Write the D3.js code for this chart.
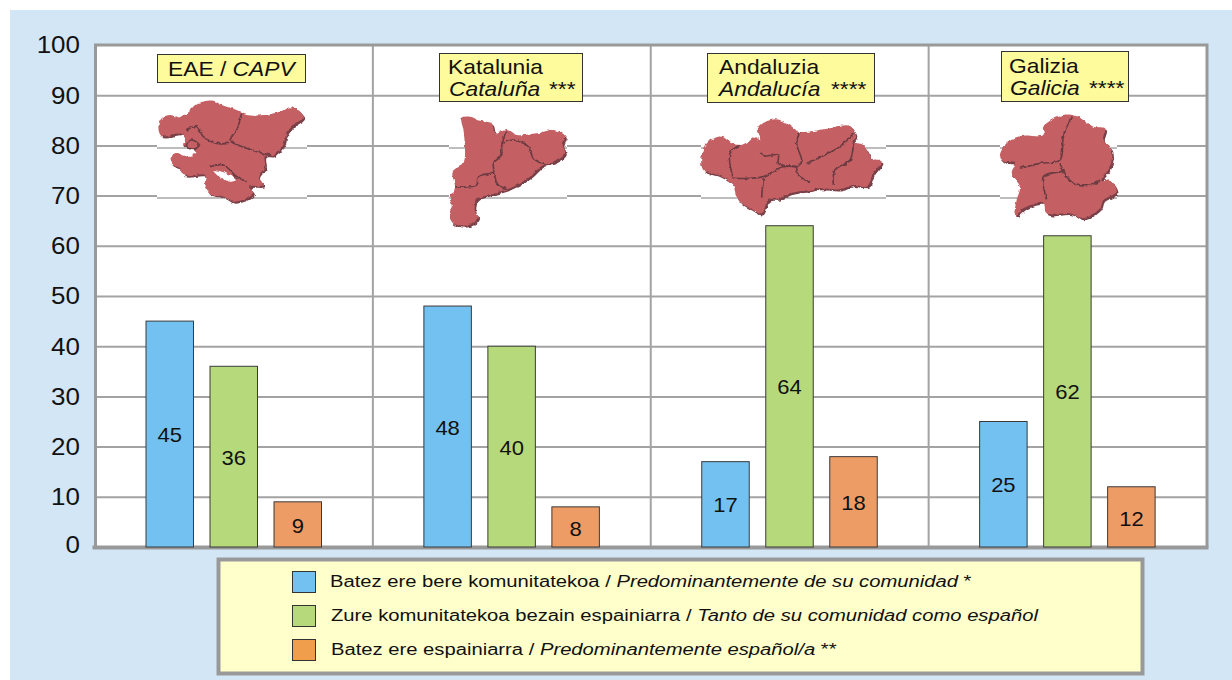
<!DOCTYPE html>
<html><head><meta charset="utf-8">
<script src="https://cdn.jsdelivr.net/npm/d3@7"></script>
<style>
html,body{margin:0;padding:0;background:#fff}
svg{display:block}
text{font-family:"Liberation Sans",Arial,sans-serif;fill:#111}
</style></head><body><div id="c"></div>
<script>
const regions = ["EAE","Katalunia","Andaluzia","Galizia"];
const series = ["predominantlyRegional","both","predominantlySpanish"];
const regional = [45,48,17,25];
const both = [36,40,64,62];
const spanish = [9,8,18,12];
const yTicks = [0,10,20,30,40,50,60,70,80,90,100];
const barColors = ["#73C1F1","#B6DA7B","#EE9C66"];
const swatchColors = ["#73C1F1","#B6DA7B","#F09D4C"];
const legendLabels = [
  ["Batez ere bere komunitatekoa / ","Predominantemente de su comunidad"," *"],
  ["Zure komunitatekoa bezain espainiarra / ","Tanto de su comunidad como español",""],
  ["Batez ere espainiarra / ","Predominantemente español/a"," **"]
];
const titles = [
  {box:[157,54,148,28], lines:[{y:76,x:168,parts:[["EAE / ",0],["CAPV",1]]}]},
  {box:[439,53,143,48], lines:[{y:74,x:448,parts:[["Katalunia",0]]},{y:96,x:449,parts:[["Cataluña",1]]},{y:96,x:549,parts:[["***",0]]}]},
  {box:[707,53,167,49], lines:[{y:74,x:719,parts:[["Andaluzia",0]]},{y:96,x:719,parts:[["Andalucía",1]]},{y:96,x:831,parts:[["****",0]]}]},
  {box:[1001,51,127,50],lines:[{y:73,x:1009,parts:[["Galizia",0]]},{y:95,x:1010,parts:[["Galicia",1]]},{y:95,x:1089,parts:[["****",0]]}]}
];
// Region silhouettes: outline + interior boundaries, traced at 3x around an origin
const maps = [
 {origin:[90,30],clip:[157,307,100,203],grid:[148,198],
  outline:[[205,290],[215,265],[240,255],[270,262],[300,240],[320,222],[370,212],[395,225],[440,240],[470,255],[520,255],[570,245],[600,232],[625,240],[640,262],[610,285],[590,310],[580,345],[550,375],[525,378],[525,410],[505,440],[520,465],[480,470],[490,490],[470,505],[430,515],[400,500],[360,490],[345,460],[345,435],[280,435],[270,415],[250,405],[242,385],[260,368],[300,378],[320,360],[280,345],[285,325],[270,310],[215,318]],
  holes:[[[370,422],[395,425],[440,447],[425,455],[395,445]],[[265,368],[285,365],[310,378],[295,380]]],
  inner:[[[455,250],[440,300],[420,330],[470,355],[540,375]],[[415,340],[380,340],[340,320],[320,290],[290,300]],[[290,340],[305,330],[328,345],[310,358],[290,350],[290,340]],[[360,410],[400,405],[440,440],[470,455]]]},
 {origin:[370,30],clip:[449,567,110,226],grid:[148,198],
  outline:[[275,265],[300,260],[330,272],[365,280],[375,310],[410,300],[440,315],[500,310],[550,300],[585,318],[578,345],[585,370],[555,395],[520,405],[480,440],[420,475],[370,490],[320,510],[315,545],[325,560],[310,580],[280,587],[250,580],[237,555],[245,530],[240,500],[255,475],[248,425],[280,400],[285,350],[280,300]],
  holes:[],
  inner:[[[410,305],[395,345],[395,375],[370,400],[370,425],[325,440],[320,465],[255,470]],[[370,425],[385,465],[410,475]],[[400,340],[430,330],[475,350],[490,385],[520,400]]]},
 {origin:[650,30],clip:[701,886,112,216],grid:[148,198],
  outline:[[155,375],[175,335],[215,320],[245,340],[270,345],[295,335],[315,322],[330,330],[325,290],[375,268],[410,280],[450,305],[520,298],[600,288],[618,320],[610,335],[640,345],[670,390],[695,395],[670,430],[650,470],[610,465],[570,478],[510,475],[480,480],[420,490],[390,505],[355,510],[335,550],[300,535],[265,510],[245,460],[205,435],[160,420]],
  holes:[],
  inner:[[[270,345],[240,370],[250,445]],[[250,445],[300,445],[340,440],[400,410],[440,410]],[[330,370],[345,378],[385,375],[385,400],[440,410]],[[450,305],[440,340],[455,395],[440,410]],[[470,400],[570,350],[610,310]],[[440,410],[445,435],[480,455]],[[610,340],[600,390],[555,420],[550,465]],[[340,445],[335,500]]]},
 {origin:[930,30],clip:[1000,1117,113,220],grid:[148,198],
  outline:[[210,380],[225,345],[270,318],[340,315],[340,290],[400,255],[450,262],[490,290],[525,295],[520,330],[545,360],[540,410],[515,450],[540,450],[560,485],[520,510],[510,535],[460,565],[420,550],[350,550],[340,520],[290,530],[255,555],[260,510],[270,470],[245,430],[255,400],[225,395]],
  holes:[],
  inner:[[[425,258],[400,320],[390,390],[330,400],[270,415]],[[390,400],[410,440],[440,465],[480,465],[510,450]],[[400,425],[340,440],[345,490],[350,510]]]}
];

const W=1232,H=680;
const svg=d3.select("#c").append("svg").attr("width",W).attr("height",H);
const defs=svg.append("defs");
const f=defs.append("filter").attr("id","soft").attr("filterUnits","objectBoundingBox").attr("x","-10%").attr("y","-10%").attr("width","120%").attr("height","120%");
f.append("feTurbulence").attr("type","fractalNoise").attr("baseFrequency",0.07).attr("numOctaves",2).attr("seed",4).attr("result","n");
f.append("feDisplacementMap").attr("in","SourceGraphic").attr("in2","n").attr("scale",11).attr("xChannelSelector","R").attr("yChannelSelector","G").attr("result","d");
f.append("feGaussianBlur").attr("in","d").attr("stdDeviation",1.6);

svg.append("rect").attr("x",10).attr("y",10).attr("width",W-10).attr("height",H-10).attr("fill","#D3E6F5");

const plot={l:95.5,r:1207,t:45,b:547};
const x=d3.scaleBand().domain(regions).range([plot.l,plot.r]);
const y=d3.scaleLinear().domain([0,100]).range([plot.b,plot.t]);
const xs=d3.scaleBand().domain(series).range([50.5,226]).paddingInner(0.258).paddingOuter(0);

svg.append("rect").attr("x",plot.l).attr("y",plot.t).attr("width",plot.r-plot.l).attr("height",plot.b-plot.t).attr("fill","#fff");

// grid
const gridG=svg.append("g").attr("transform",`translate(${plot.l},0)`)
 .call(d3.axisLeft(y).tickValues(yTicks.slice(1,-1)).tickSize(-(plot.r-plot.l)).tickFormat(""));
gridG.select(".domain").remove();
gridG.selectAll("line").attr("stroke","#A3A3A3").attr("stroke-width",2);
svg.selectAll(".vg").data(regions.slice(1)).join("line").attr("class","vg")
 .attr("x1",d=>x(d)-0.5).attr("x2",d=>x(d)-0.5).attr("y1",plot.t).attr("y2",plot.b)
 .attr("stroke","#A3A3A3").attr("stroke-width",2);

// frame
svg.append("path").attr("fill","none").attr("stroke","#999").attr("stroke-width",3)
 .attr("d",`M${plot.l},${plot.b}V${plot.t}H${plot.r}V${plot.b}`);
svg.append("line").attr("x1",plot.l-3).attr("x2",plot.r+1.5).attr("y1",plot.b+0.5).attr("y2",plot.b+0.5).attr("stroke","#999").attr("stroke-width",4);

// axis labels
const yAxis=svg.append("g").attr("transform",`translate(80,0)`)
 .call(d3.axisLeft(y).tickValues(yTicks).tickSize(0).tickPadding(0));
yAxis.select(".domain").remove();
yAxis.selectAll("text").style("font-family",'"Liberation Sans",Arial,sans-serif').attr("font-size",23).attr("fill","#111")
 .attr("dy",".34em").attr("transform","scale(1.13,1)");
yAxis.selectAll("text").filter(d=>d===0).attr("dy","0.22em");

// maps
const lineGen=d3.line().curve(d3.curveCatmullRom.alpha(0.5));
const closedGen=d3.line().curve(d3.curveCatmullRomClosed.alpha(0.5));
maps.forEach(m=>{
  const [cx0,cx1]=m.clip;
  svg.append("rect").attr("x",cx0).attr("y",m.grid[0]-10).attr("width",cx1-cx0).attr("height",m.grid[1]-m.grid[0]+14).attr("fill","#fff");
  m.grid.forEach(gy=>svg.append("line").attr("x1",cx0).attr("x2",cx1).attr("y1",gy).attr("y2",gy).attr("stroke","#BDBDBD").attr("stroke-width",2));
  const g=svg.append("g").attr("transform",`translate(${m.origin[0]},${m.origin[1]}) scale(${1/3})`).attr("filter","url(#soft)");
  g.append("path").attr("d",closedGen(m.outline)).attr("fill","#7A3F46").attr("transform","translate(5,6)");
  g.append("path").attr("d",closedGen(m.outline)).attr("fill","#C46064");
  m.holes.forEach(h=>g.append("path").attr("d",closedGen(h)).attr("fill","#fff"));
  m.inner.forEach(l=>g.append("path").attr("d",lineGen(l)).attr("fill","none").attr("stroke","#6B3A40").attr("stroke-width",5));
});

// title boxes
titles.forEach(t=>{
  svg.append("rect").attr("x",t.box[0]+.5).attr("y",t.box[1]+.5).attr("width",t.box[2]).attr("height",t.box[3])
   .attr("fill","#FDFB9B").attr("stroke","#333").attr("stroke-width",1);
  t.lines.forEach(l=>{
    const tx=svg.append("text").attr("transform",`translate(${l.x},${l.y}) scale(1.14,1)`).attr("font-size",20);
    l.parts.forEach(p=>tx.append("tspan").text(p[0]).attr("font-style",p[1]?"italic":"normal"));
  });
});

// bars
const vals=[regional,both,spanish];
series.forEach((s,si)=>{
  const gs=svg.append("g");
  regions.forEach((r,ri)=>{
    const v=vals[si][ri];
    gs.append("rect").attr("x",x(r)+xs(s)).attr("width",xs.bandwidth())
      .attr("y",y(v)).attr("height",y(0)-y(v)).attr("fill",barColors[si]).attr("stroke","#3a3a3a").attr("stroke-width",1);
    gs.append("text").attr("transform",`translate(${x(r)+xs(s)+xs.bandwidth()/2},${y(v/2)+8+(v<15?1:0)}) scale(1.1,1)`)
      .attr("text-anchor","middle").attr("font-size",20).text(v);
  });
});

// legend
svg.append("rect").attr("x",218.5).attr("y",559.5).attr("width",924).attr("height",114).attr("fill","#FFFFCC").attr("stroke","#999").attr("stroke-width",4);
const legY=d3.scalePoint().domain(d3.range(3)).range([571,639]);
const legX=[330,331,331];
legendLabels.forEach((l,i)=>{
  svg.append("rect").attr("x",292.5).attr("y",legY(i)+.5).attr("width",23).attr("height",21).attr("fill",swatchColors[i]).attr("stroke","#333");
  const t=svg.append("text").attr("transform",`translate(${legX[i]},${legY(i)+16}) scale(1.264,1)`).attr("font-size",16);
  t.append("tspan").text(l[0]);
  t.append("tspan").text(l[1]).attr("font-style","italic");
  t.append("tspan").text(l[2]);
});
</script></body></html>
